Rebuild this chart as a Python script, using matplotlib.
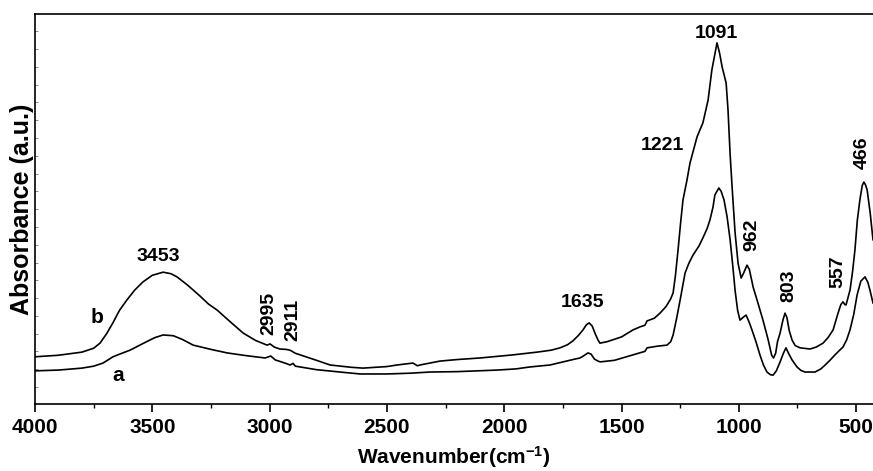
import numpy as np
import matplotlib
matplotlib.use("Agg")
import matplotlib.pyplot as plt

# FTIR spectra, absorbance in arbitrary units
wn_b = [4000, 3900, 3800, 3750, 3723, 3695, 3668, 3640, 3608, 3575, 3540, 3500,
        3454, 3420, 3395, 3350, 3297, 3260, 3224, 3170, 3113, 3060, 3011, 2998,
        2980, 2956, 2930, 2913, 2890, 2870, 2800, 2742, 2650, 2602, 2500, 2457,
        2400, 2389, 2370, 2359, 2274, 2200, 2103, 2000, 1962, 1860, 1800, 1762,
        1730, 1707, 1685, 1664, 1650, 1638, 1625, 1612, 1600, 1592, 1560, 1500,
        1451, 1420, 1400, 1391, 1360, 1336, 1310, 1290, 1280, 1270, 1259, 1248,
        1238, 1221, 1208, 1178, 1153, 1131, 1115, 1103, 1093, 1082, 1071, 1054,
        1046, 1037, 1029, 1016, 1003, 990, 980, 965, 955, 939, 918, 897, 875, 860,
        852, 843, 835, 824, 812, 803, 795, 785, 773, 760, 739, 696, 670, 641, 620,
        598, 577, 565, 556, 548, 543, 526, 515, 505, 495, 484, 474, 467, 460, 453,
        440, 428]
ab_b = [0.121, 0.125, 0.133, 0.143, 0.156, 0.180, 0.208, 0.240, 0.267, 0.292,
        0.313, 0.330, 0.338, 0.334, 0.326, 0.305, 0.277, 0.256, 0.241, 0.212,
        0.182, 0.163, 0.151, 0.154, 0.146, 0.141, 0.140, 0.138, 0.130, 0.126,
        0.112, 0.100, 0.094, 0.092, 0.096, 0.100, 0.104, 0.105, 0.098, 0.100,
        0.110, 0.114, 0.118, 0.124, 0.126, 0.133, 0.138, 0.144, 0.152, 0.162,
        0.175, 0.190, 0.203, 0.208, 0.200, 0.180, 0.164, 0.156, 0.160, 0.172,
        0.190, 0.198, 0.202, 0.213, 0.220, 0.233, 0.250, 0.270, 0.285, 0.330,
        0.395, 0.465, 0.523, 0.574, 0.618, 0.685, 0.721, 0.779, 0.856, 0.895,
        0.926, 0.900, 0.864, 0.823, 0.754, 0.640, 0.560, 0.440, 0.360, 0.323,
        0.335, 0.356, 0.345, 0.300, 0.258, 0.215, 0.165, 0.125, 0.118, 0.130,
        0.160, 0.182, 0.215, 0.233, 0.222, 0.188, 0.164, 0.150, 0.144, 0.141,
        0.146, 0.156, 0.170, 0.190, 0.233, 0.255, 0.262, 0.255, 0.254, 0.292,
        0.340, 0.395, 0.470, 0.523, 0.560, 0.569, 0.562, 0.549, 0.490, 0.421]

wn_a = [4000, 3900, 3800, 3750, 3710, 3668, 3630, 3595, 3540, 3490, 3454, 3410,
        3370, 3326, 3250, 3181, 3100, 3019, 2995, 2976, 2950, 2930, 2913, 2900,
        2890, 2870, 2800, 2700, 2614, 2500, 2400, 2316, 2200, 2030, 1950, 1890,
        1805, 1749, 1700, 1677, 1660, 1643, 1630, 1615, 1600, 1591, 1530, 1451,
        1400, 1391, 1350, 1306, 1290, 1280, 1265, 1250, 1229, 1212, 1195, 1170,
        1153, 1135, 1123, 1110, 1102, 1085, 1075, 1063, 1050, 1037, 1025, 1016,
        1005, 995, 982, 969, 956, 944, 927, 910, 895, 880, 865, 854, 840, 824,
        810, 799, 788, 773, 752, 735, 718, 675, 650, 632, 610, 590, 570, 556,
        540, 526, 510, 496, 480, 462, 450, 441, 428]
ab_a = [0.085, 0.087, 0.092, 0.097, 0.105, 0.121, 0.130, 0.138, 0.155, 0.170,
        0.177, 0.175, 0.165, 0.151, 0.140, 0.131, 0.124, 0.118, 0.123, 0.113,
        0.108, 0.104, 0.100, 0.104, 0.097, 0.095, 0.088, 0.082, 0.077, 0.077,
        0.079, 0.082, 0.083, 0.087, 0.090, 0.095, 0.100, 0.108, 0.115, 0.118,
        0.124, 0.131, 0.128, 0.115, 0.110, 0.108, 0.112, 0.126, 0.135, 0.144,
        0.148, 0.151, 0.160, 0.177, 0.220, 0.267, 0.336, 0.362, 0.382, 0.405,
        0.426, 0.450, 0.472, 0.505, 0.536, 0.554, 0.545, 0.523, 0.480, 0.421,
        0.350, 0.292, 0.240, 0.215, 0.222, 0.228, 0.210, 0.190, 0.160, 0.126,
        0.100, 0.082, 0.075, 0.074, 0.085, 0.108, 0.130, 0.144, 0.130, 0.113,
        0.095, 0.086, 0.082, 0.082, 0.090, 0.100, 0.113, 0.126, 0.138, 0.146,
        0.165, 0.190, 0.230, 0.279, 0.315, 0.326, 0.312, 0.292, 0.259]

# peak labels: (text, wavenumber, height, rotation)
peaks = [("3453", 3476, 0.377, 0), ("2995", 3002, 0.233, 90), ("2911", 2900, 0.215, 90),
         ("1635", 1668, 0.259, 0), ("1221", 1327, 0.662, 0), ("1091", 1097, 0.949, 0),
         ("962", 944, 0.433, 90), ("803", 786, 0.303, 90), ("557", 577, 0.338, 90),
         ("466", 475, 0.644, 90)]
curve_tags = [("b", 3736, 0.223), ("a", 3646, 0.072)]

plt.rcParams['font.family'] = ['Liberation Sans', 'DejaVu Sans']
plt.rcParams['font.weight'] = 'bold'
plt.rcParams['mathtext.fontset'] = 'custom'
plt.rcParams['mathtext.rm'] = 'Liberation Sans:bold'
plt.rcParams['mathtext.bf'] = 'Liberation Sans:bold'
plt.rcParams['mathtext.default'] = 'bf'

fig = plt.figure(figsize=(8.73, 4.71), dpi=100)
ax = fig.add_axes([35 / 873, 67 / 471, 838 / 873, 390 / 471])

ax.plot(wn_b, ab_b, color='black', lw=1.2, solid_joinstyle='round')
ax.plot(wn_a, ab_a, color='black', lw=1.2, solid_joinstyle='round')

for txt, x, y, rot in peaks:
    ax.text(x, y, txt, rotation=rot, ha='center', va='center', fontsize=14, fontweight='bold')
for txt, x, y in curve_tags:
    ax.text(x, y, txt, ha='center', va='center', fontsize=15, fontweight='bold')

ax.set_xlim(4000, 428)
ax.set_ylim(0, 1)
ax.set_xticks([4000, 3500, 3000, 2500, 2000, 1500, 1000, 500])
ax.set_xticks(np.arange(3750, 400, -500), minor=True)
ax.tick_params(axis='x', which='major', direction='out', length=6, width=1.2, labelsize=15, pad=4)
ax.tick_params(axis='x', which='minor', direction='out', length=3, width=1.0)
ax.set_yticks(np.arange(0.0436, 1.0, 0.0456))
ax.tick_params(axis='y', which='major', direction='in', length=2, width=0.6, color='#777777', labelleft=False)
ax.spines['right'].set_visible(False)
for side in ['left', 'bottom', 'top']:
    ax.spines[side].set_linewidth(1.2)

ax.set_xlabel('Wavenumber(cm$^{-1}$)', fontsize=15, fontweight='bold', labelpad=5)
ax.set_ylabel('Absorbance (a.u.)', fontsize=18, fontweight='bold', labelpad=1)

fig.savefig('out.png', dpi=100)
